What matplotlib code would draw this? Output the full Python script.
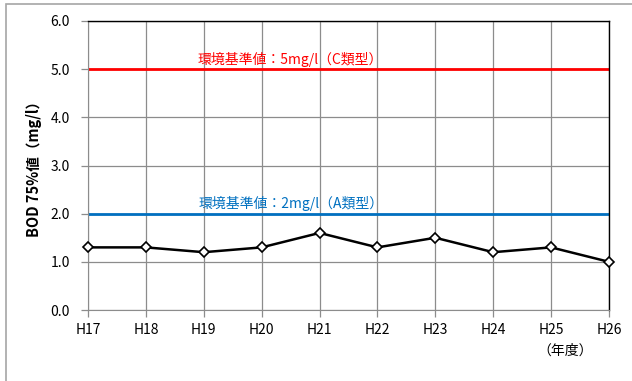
import matplotlib.pyplot as plt
from matplotlib.patches import Rectangle

plt.rcParams["font.family"] = ["Noto Sans CJK JP", "DejaVu Sans"]

years = ["H17", "H18", "H19", "H20", "H21", "H22", "H23", "H24", "H25", "H26"]
bod75 = [1.3, 1.3, 1.2, 1.3, 1.6, 1.3, 1.5, 1.2, 1.3, 1.0]
std_c = 5.0
std_a = 2.0
y_ticks = [0.0, 1.0, 2.0, 3.0, 4.0, 5.0, 6.0]

GRID = "#8C8C8C"
RED = "#FF0000"
BLUE = "#0070C0"

fig = plt.figure(figsize=(6.32, 3.81), dpi=100)
# outer chart frame
fig.patches.append(Rectangle((6 / 632, -0.05), 1.0, 1 - 4 / 381 + 0.05,
                             transform=fig.transFigure, fill=False,
                             edgecolor="#A6A6A6", lw=1.2))

ax = fig.add_axes([88 / 632, 1 - 310 / 381, (609 - 88) / 632, (310 - 21) / 381])
x = list(range(len(years)))

ax.set_xlim(0, len(years) - 1)
ax.set_ylim(0, 6)
ax.set_yticks(y_ticks)
ax.set_yticklabels([f"{v:.1f}" for v in y_ticks], fontsize=10)
ax.set_xticks(x)
ax.set_xticklabels(years, fontsize=10)
ax.grid(True, color=GRID, lw=0.9)
ax.set_axisbelow(True)
ax.tick_params(axis="both", direction="out", length=5, color=GRID, width=0.9, pad=4)
ax.tick_params(axis="y", pad=8)
for side in ("left", "bottom"):
    ax.spines[side].set_color(GRID)
for side in ("top", "right"):
    ax.spines[side].set_color("black")
    ax.spines[side].set_linewidth(1.0)

ax.axhline(std_c, color=RED, lw=2.0)
ax.axhline(std_a, color=BLUE, lw=2.0)
ax.text(3.5, std_c + 0.05, f"環境基準値：{std_c:g}mg/l（C類型）", color=RED,
        fontsize=10, ha="center", va="bottom")
ax.text(3.5, std_a + 0.05, f"環境基準値：{std_a:g}mg/l（A類型）", color=BLUE,
        fontsize=10, ha="center", va="bottom")

ax.plot(x, bod75, color="black", lw=1.8, marker="D", markersize=5.5,
        markerfacecolor="white", markeredgecolor="black", markeredgewidth=1.2,
        clip_on=False, zorder=5)

ax.set_ylabel("BOD 75%値（mg/l）", fontsize=10.5, fontweight="bold", labelpad=6)
fig.text(565 / 632, 1 - 351 / 381, "（年度）", fontsize=10, ha="center", va="center")

fig.savefig("out.png", dpi=100, facecolor="white")
